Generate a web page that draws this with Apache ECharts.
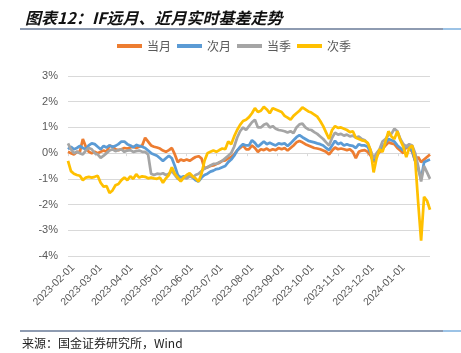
<!DOCTYPE html>
<html>
<head>
<meta charset="utf-8">
<script src="https://cdn.jsdelivr.net/npm/echarts@6/dist/echarts.min.js"></script>
<style>
  html, body { margin: 0; padding: 0; background: #fff; }
  #chart { width: 461px; height: 353px; }
</style>
</head>
<body>
<div id="chart"></div>
<script>
// sample dates (every 3 days)
const dates = [
  '2023-02-01','2023-02-04','2023-02-07','2023-02-10','2023-02-13','2023-02-16','2023-02-19','2023-02-22','2023-02-25','2023-02-28',
  '2023-03-03','2023-03-06','2023-03-09','2023-03-12','2023-03-15','2023-03-18','2023-03-21','2023-03-24','2023-03-27','2023-03-30',
  '2023-04-02','2023-04-05','2023-04-08','2023-04-11','2023-04-14','2023-04-17','2023-04-20','2023-04-23','2023-04-26','2023-04-29',
  '2023-05-02','2023-05-05','2023-05-08','2023-05-11','2023-05-14','2023-05-17','2023-05-20','2023-05-23','2023-05-26','2023-05-29',
  '2023-06-01','2023-06-04','2023-06-07','2023-06-10','2023-06-13','2023-06-16','2023-06-19','2023-06-22','2023-06-25','2023-06-28',
  '2023-07-01','2023-07-04','2023-07-07','2023-07-10','2023-07-13','2023-07-16','2023-07-19','2023-07-22','2023-07-25','2023-07-28',
  '2023-07-31','2023-08-03','2023-08-06','2023-08-09','2023-08-12','2023-08-15','2023-08-18','2023-08-21','2023-08-24','2023-08-27',
  '2023-08-30','2023-09-02','2023-09-05','2023-09-08','2023-09-11','2023-09-14','2023-09-17','2023-09-20','2023-09-23','2023-09-26',
  '2023-09-29','2023-10-02','2023-10-05','2023-10-08','2023-10-11','2023-10-14','2023-10-17','2023-10-20','2023-10-23','2023-10-26',
  '2023-10-29','2023-11-01','2023-11-04','2023-11-07','2023-11-10','2023-11-13','2023-11-16','2023-11-19','2023-11-22','2023-11-25',
  '2023-11-28','2023-12-01','2023-12-04','2023-12-07','2023-12-10','2023-12-13','2023-12-16','2023-12-19','2023-12-22','2023-12-25',
  '2023-12-28','2023-12-31','2024-01-03','2024-01-06','2024-01-09','2024-01-12','2024-01-15','2024-01-18','2024-01-21','2024-01-24',
  '2024-01-27','2024-01-30','2024-02-02'
];

// 当月
const dangYue = [
  0.05,0.0,-0.05,0.05,0.05,0.55,0.25,0.05,0.0,0.05,
  0.0,0.05,0.1,0.05,0.3,0.25,0.15,0.12,0.15,0.2,
  0.18,0.22,0.25,0.2,0.25,0.3,0.6,0.45,0.3,0.25,
  0.22,0.18,0.1,0.05,0.12,0.2,-0.05,-0.35,-0.25,-0.3,
  -0.25,-0.3,-0.22,-0.15,-0.12,-0.2,-0.6,-0.55,-0.5,-0.48,
  -0.42,-0.38,-0.3,-0.28,-0.2,-0.15,-0.05,0.1,0.2,0.3,
  0.15,0.15,0.3,0.2,0.05,0.15,0.12,0.18,0.1,0.15,
  0.12,0.2,0.15,0.2,0.1,0.2,0.3,0.42,0.47,0.42,
  0.35,0.3,0.25,0.2,0.18,0.15,0.1,0.05,-0.05,0.1,
  0.22,0.15,0.18,0.15,0.12,0.15,0.05,-0.2,0.05,0.1,
  0.12,0.05,-0.1,-0.35,-0.1,0.05,0.15,0.3,0.42,0.38,
  0.35,0.2,0.1,0.0,0.25,0.2,0.05,-0.3,-0.15,-0.35,
  -0.25,-0.15,-0.05
];

// 次月
const ciYue = [
  0.15,0.25,0.15,0.2,0.28,0.2,0.15,0.3,0.38,0.35,
  0.25,0.15,0.28,0.22,0.3,0.25,0.28,0.35,0.45,0.45,
  0.35,0.3,0.22,0.32,0.28,0.25,0.2,0.1,0.0,-0.05,
  -0.1,-0.2,-0.3,-0.2,-0.1,-0.2,-0.5,-0.85,-0.95,-0.9,
  -0.95,-0.85,-0.95,-1.05,-1.1,-0.95,-0.85,-0.8,-0.72,-0.68,
  -0.62,-0.6,-0.55,-0.5,-0.35,-0.25,-0.1,0.1,0.25,0.35,
  0.3,0.3,0.5,0.4,0.25,0.35,0.45,0.35,0.4,0.35,
  0.3,0.38,0.35,0.38,0.28,0.38,0.5,0.62,0.7,0.62,
  0.55,0.48,0.45,0.42,0.38,0.35,0.3,0.2,0.12,0.3,
  0.48,0.35,0.4,0.3,0.35,0.3,0.28,0.2,0.35,0.3,
  0.3,0.25,0.0,-0.3,-0.05,0.1,0.25,0.4,0.55,0.5,
  0.45,0.3,0.2,0.1,0.3,0.2,0.1,-0.3,-0.6,-1.0,
  -0.35,-0.3,-0.25
];

// 当季
const dangJi = [
  0.38,0.15,0.0,0.05,0.0,-0.05,0.1,0.2,0.15,0.0,
  -0.05,-0.18,-0.1,0.0,0.1,0.15,0.08,0.12,0.15,0.05,
  0.1,0.12,0.05,0.08,0.1,0.05,0.05,-0.05,-0.8,-0.85,
  -0.8,-0.82,-0.78,-0.85,-0.8,-0.7,-0.85,-1.0,-1.05,-0.95,
  -0.98,-0.9,-0.95,-0.85,-0.8,-0.7,-0.6,-0.55,-0.48,-0.42,
  -0.42,-0.35,-0.3,-0.2,-0.1,0.0,0.25,0.6,0.85,1.0,
  0.9,1.05,1.2,1.3,1.0,1.0,1.1,1.15,1.0,1.05,
  0.95,0.9,0.88,0.85,0.8,0.85,0.78,1.0,1.12,1.15,
  1.0,0.92,0.9,0.82,0.75,0.65,0.55,0.42,0.3,0.6,
  0.8,0.72,0.75,0.68,0.72,0.65,0.68,0.6,0.65,0.55,
  0.5,0.38,0.1,-0.2,0.0,0.15,0.45,0.55,0.7,0.75,
  0.95,0.85,0.55,0.35,0.25,0.35,0.3,0.0,-0.5,-1.1,
  -0.5,-0.75,-1.0
];

// 次季
const ciJi = [
  -0.3,-0.7,-0.8,-0.85,-0.88,-1.05,-0.95,-0.92,-0.95,-0.92,
  -0.88,-1.15,-1.3,-1.28,-1.55,-1.45,-1.25,-1.2,-1.05,-0.95,
  -1.05,-0.9,-1.0,-0.82,-0.95,-0.9,-0.92,-0.98,-0.95,-0.98,
  -1.0,-0.95,-1.15,-0.98,-0.85,-0.55,-0.8,-0.95,-1.1,-0.95,
  -0.85,-0.78,-0.9,-0.98,-1.1,-0.8,-0.3,0.0,0.05,0.1,
  0.05,0.12,0.18,0.15,0.45,0.35,0.65,0.9,1.1,1.25,
  1.3,1.4,1.55,1.75,1.6,1.65,1.8,1.7,1.55,1.75,
  1.7,1.65,1.6,1.45,1.38,1.3,1.45,1.55,1.65,1.78,
  1.7,1.62,1.58,1.5,1.42,1.25,1.05,0.8,0.55,0.9,
  1.05,0.98,1.0,0.95,0.9,0.82,0.85,0.6,0.55,0.5,
  0.48,0.4,0.1,-0.75,-0.2,0.15,0.05,0.45,0.85,0.65,
  0.55,0.85,0.5,0.25,-0.15,0.2,0.3,-0.25,-1.9,-3.4,
  -1.7,-1.85,-2.2
];

const monthTicks = [
  '2023-02-01','2023-03-01','2023-04-01','2023-05-01','2023-06-01','2023-07-01',
  '2023-08-01','2023-09-01','2023-10-01','2023-11-01','2023-12-01','2024-01-01'
];

const seriesNames = ['当月', '次月', '当季', '次季'];
const seriesColors = ['#ED7D31', '#5B9BD5', '#A5A5A5', '#FFC000'];
const seriesData = [dangYue, ciYue, dangJi, ciJi];

function toTime(s) {
  const p = s.split('-');
  return new Date(+p[0], +p[1] - 1, +p[2]).getTime();
}

const tickValues = monthTicks.map(toTime);
const xMin = toTime('2023-02-01');
const xMax = toTime('2024-02-02');

var myChart = echarts.init(document.getElementById('chart'), null, { renderer: 'canvas' });

myChart.setOption({
  animation: false,
  textStyle: { fontFamily: 'Liberation Sans, Noto Sans CJK SC' },
  title: {
    text: '图表12：IF远月、近月实时基差走势',
    left: 20,
    top: 5,
    textStyle: {
      fontFamily: 'Noto Sans CJK SC',
      fontSize: 16,
      fontWeight: 'bold',
      fontStyle: 'italic',
      color: '#111'
    }
  },
  legend: {
    left: 117,
    top: 40,
    padding: 0,
    itemWidth: 25,
    itemHeight: 4,
    itemGap: 6,
    icon: 'rect',
    textStyle: { fontSize: 12, color: '#595959', fontFamily: 'Noto Sans CJK SC' },
    data: seriesNames
  },
  grid: {
    left: 68,
    right: 31,
    top: 76,
    bottom: 97
  },
  xAxis: {
    type: 'value',
    min: xMin,
    max: xMax,
    position: 'bottom',
    axisLine: { show: true, onZero: true, lineStyle: { color: '#d9d9d9' } },
    axisTick: { show: true, customValues: tickValues, length: 3, lineStyle: { color: '#d9d9d9' } },
    axisLabel: { show: false },
    splitLine: { show: false }
  },
  yAxis: {
    type: 'value',
    min: -4,
    max: 3,
    interval: 1,
    axisLine: { show: false },
    axisTick: { show: false },
    axisLabel: {
      formatter: '{value}%',
      fontSize: 11,
      color: '#595959',
      margin: 10
    },
    splitLine: { lineStyle: { color: '#d9d9d9', width: 1 } }
  },
  series: seriesNames.map(function (name, i) {
    return {
      name: name,
      type: 'line',
      showSymbol: false,
      symbol: 'none',
      lineStyle: { width: 2.75, color: seriesColors[i] },
      itemStyle: { color: seriesColors[i] },
      data: dates.map(function (d, j) { return [toTime(d), seriesData[i][j]]; })
    };
  })
});

// month labels: echarts v6 drops every other rotated label as overlapping,
// so they are placed with the axis scale (convertToPixel) as rotated texts
const axisBottom = myChart.convertToPixel({ yAxisIndex: 0 }, -4);
const monthLabels = monthTicks.map(function (m, i) {
  const px = myChart.convertToPixel({ xAxisIndex: 0 }, tickValues[i]);
  return {
    type: 'text',
    x: px + 5,
    y: axisBottom + 10,
    rotation: Math.PI / 4,
    silent: true,
    style: {
      text: m,
      align: 'right',
      verticalAlign: 'middle',
      fontSize: 10.5,
      fontFamily: 'Liberation Sans',
      fill: '#595959'
    }
  };
});

myChart.setOption({
  graphic: [
    { type: 'line', shape: { x1: 20, y1: 29, x2: 443, y2: 29 }, style: { stroke: '#1F3864', lineWidth: 1.2 } },
    { type: 'line', shape: { x1: 443, y1: 29, x2: 461, y2: 29 }, style: { stroke: '#5B9BD5', lineWidth: 1.2 } },
    { type: 'line', shape: { x1: 20, y1: 331, x2: 443, y2: 331 }, style: { stroke: '#1F3864', lineWidth: 1.2 } },
    { type: 'line', shape: { x1: 443, y1: 331, x2: 461, y2: 331 }, style: { stroke: '#5B9BD5', lineWidth: 1.2 } },
    {
      type: 'text', left: 22, top: 337,
      style: { text: '来源：国金证券研究所，Wind', fontSize: 12, fill: '#222', fontFamily: 'Noto Sans CJK SC' }
    }
  ].concat(monthLabels)
});
</script>
</body>
</html>
